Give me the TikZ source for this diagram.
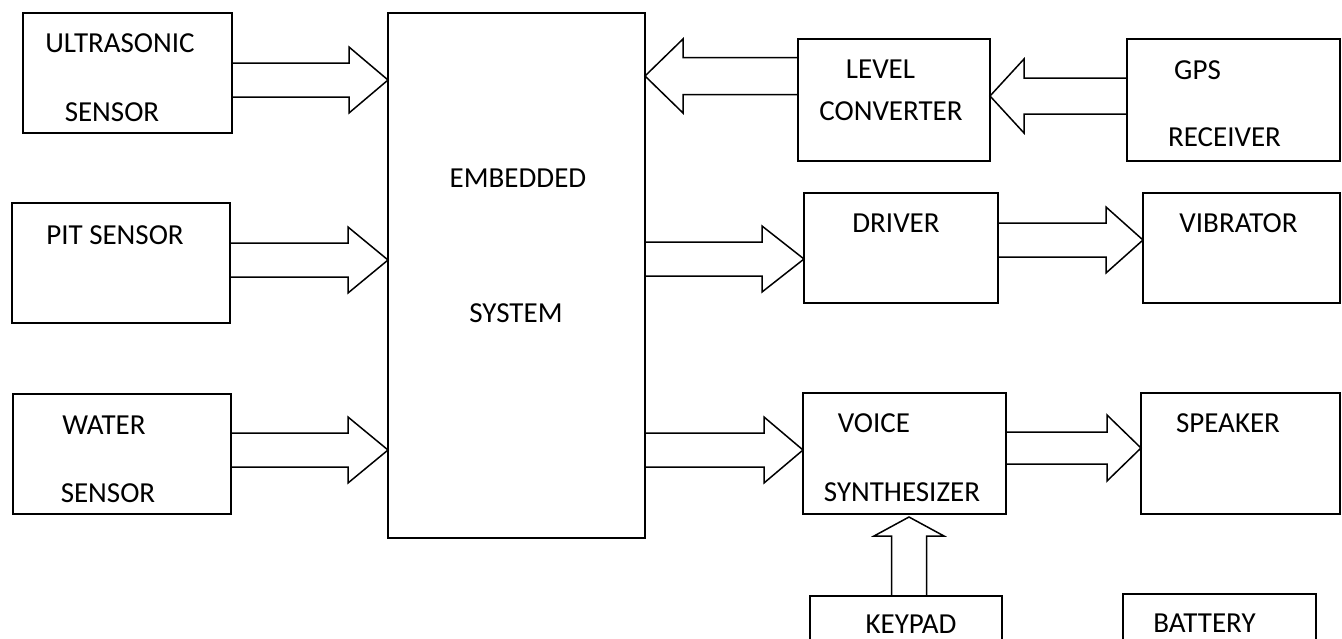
\documentclass[tikz,border=0pt]{standalone}
\usepackage{fontspec}
\setmainfont{Carlito}
\usetikzlibrary{calc}
\tikzset{
  box/.style={draw, line width=1.6pt, rectangle, outer sep=0pt, inner sep=0pt},
  lbl/.style={inner sep=0pt, font=\fontsize{29}{34}\selectfont},
  barrow/.style={draw, line width=1.5pt, line join=miter},
}
% right-pointing block arrow: #1 start, #2 tip, #3 shaft half width, #4 head half width, #5 head length
\newcommand\rarrow[5]{%
  \draw[barrow] ($(#1)+(0,-#3)$) -- ($(#2)+(-#5,-#3)$) -- ($(#2)+(-#5,-#4)$) -- (#2)
    -- ($(#2)+(-#5,#4)$) -- ($(#2)+(-#5,#3)$) -- ($(#1)+(0,#3)$) -- cycle;}
% left-pointing block arrow
\newcommand\larrow[5]{%
  \draw[barrow] ($(#1)+(0,-#3)$) -- ($(#2)+(#5,-#3)$) -- ($(#2)+(#5,-#4)$) -- (#2)
    -- ($(#2)+(#5,#4)$) -- ($(#2)+(#5,#3)$) -- ($(#1)+(0,#3)$) -- cycle;}
% up-pointing block arrow
\newcommand\uarrow[5]{%
  \draw[barrow] ($(#1)+(-#3,0)$) -- ($(#2)+(-#3,#5)$) -- ($(#2)+(-#4,#5)$) -- (#2)
    -- ($(#2)+(#4,#5)$) -- ($(#2)+(#3,#5)$) -- ($(#1)+(#3,0)$) -- cycle;}
\begin{document}
\begin{tikzpicture}[x=1pt, y=-1pt]
\useasboundingbox (0,0) rectangle (1342,638);
\clip (0,0) rectangle (1342,638);
\fill[white] (0,0) rectangle (1342,638);

% boxes
\node[box, minimum width=209, minimum height=120] (us)    at (127.5,73)   {};
\node[box, minimum width=218, minimum height=120] (pit)   at (121,263)    {};
\node[box, minimum width=218, minimum height=120] (water) at (122,454)    {};
\node[box, minimum width=257, minimum height=525] (emb)   at (516.5,275.5){};
\node[box, minimum width=192, minimum height=122] (lvl)   at (894,100)    {};
\node[box, minimum width=213, minimum height=122] (gps)   at (1233.5,100) {};
\node[box, minimum width=194, minimum height=110] (drv)   at (901,248)    {};
\node[box, minimum width=197, minimum height=110] (vib)   at (1241.5,248) {};
\node[box, minimum width=203, minimum height=121] (voice) at (904.5,453.5){};
\node[box, minimum width=199, minimum height=121] (spk)   at (1240.5,453.5){};
\node[box, minimum width=192, minimum height=64]  (key)   at (906,628)    {};
\node[box, minimum width=193, minimum height=66]  (bat)   at (1219.5,627) {};

% labels
\node[lbl] (t-us1)  at (120,43)    {ULTRASONIC};
\node[lbl] (t-us2)  at (112,112)   {SENSOR};
\node[lbl] (t-pit)  at (115,235)   {PIT SENSOR};
\node[lbl] (t-wa1)  at (104,425)   {WATER};
\node[lbl] (t-wa2)  at (108,493)   {SENSOR};
\node[lbl] (t-em1)  at (518,178)   {EMBEDDED};
\node[lbl] (t-em2)  at (516,313)   {SYSTEM};
\node[lbl] (t-lv1)  at (880.5,69)  {LEVEL};
\node[lbl] (t-lv2)  at (891,111)   {CONVERTER};
\node[lbl] (t-gp1)  at (1197.5,70) {GPS};
\node[lbl] (t-gp2)  at (1224.5,137){RECEIVER};
\node[lbl] (t-drv)  at (896,223)   {DRIVER};
\node[lbl] (t-vib)  at (1238.5,223){VIBRATOR};
\node[lbl] (t-vo1)  at (874,423)   {VOICE};
\node[lbl] (t-vo2)  at (902,492)   {SYNTHESIZER};
\node[lbl] (t-spk)  at (1228,423)  {SPEAKER};
\node[lbl] (t-key)  at (911,624.5) {KEYPAD};
\node[lbl] (t-bat)  at (1204.5,623.5){BATTERY};

% arrow end points
\coordinate (a1s) at (us.east |- 0,80);     \coordinate (a1t) at (emb.west |- 0,80);
\coordinate (a2s) at (pit.east |- 0,260);   \coordinate (a2t) at (emb.west |- 0,260);
\coordinate (a3s) at (water.east |- 0,450); \coordinate (a3t) at (emb.west |- 0,450);
\coordinate (a4s) at (lvl.west |- 0,76);    \coordinate (a4t) at (emb.east |- 0,76);
\coordinate (a5s) at (gps.west |- 0,96);    \coordinate (a5t) at (lvl.east |- 0,96);
\coordinate (a6s) at (emb.east |- 0,259);   \coordinate (a6t) at (drv.west |- 0,259);
\coordinate (a7s) at (drv.east |- 0,240);   \coordinate (a7t) at (vib.west |- 0,240);
\coordinate (a8s) at (emb.east |- 0,450);   \coordinate (a8t) at (voice.west |- 0,450);
\coordinate (a9s) at (voice.east |- 0,448); \coordinate (a9t) at (spk.west |- 0,448);
\coordinate (a10s) at (key.north -| 909,0);
\coordinate (a10t) at ([yshift=-3pt]voice.south -| 909,0);

% block arrows
\rarrow{a1s}{a1t}{17}{33}{39}
\rarrow{a2s}{a2t}{17}{33}{40}
\rarrow{a3s}{a3t}{17}{33}{40}
\larrow{a4s}{a4t}{18.5}{37}{38}
\larrow{a5s}{a5t}{18}{37}{34}
\rarrow{a6s}{a6t}{17}{33}{42}
\rarrow{a7s}{a7t}{17}{33}{37}
\rarrow{a8s}{a8t}{17}{33}{39}
\rarrow{a9s}{a9t}{16}{33}{34}
\uarrow{a10s}{a10t}{17.5}{35}{19}
\end{tikzpicture}
\end{document}
